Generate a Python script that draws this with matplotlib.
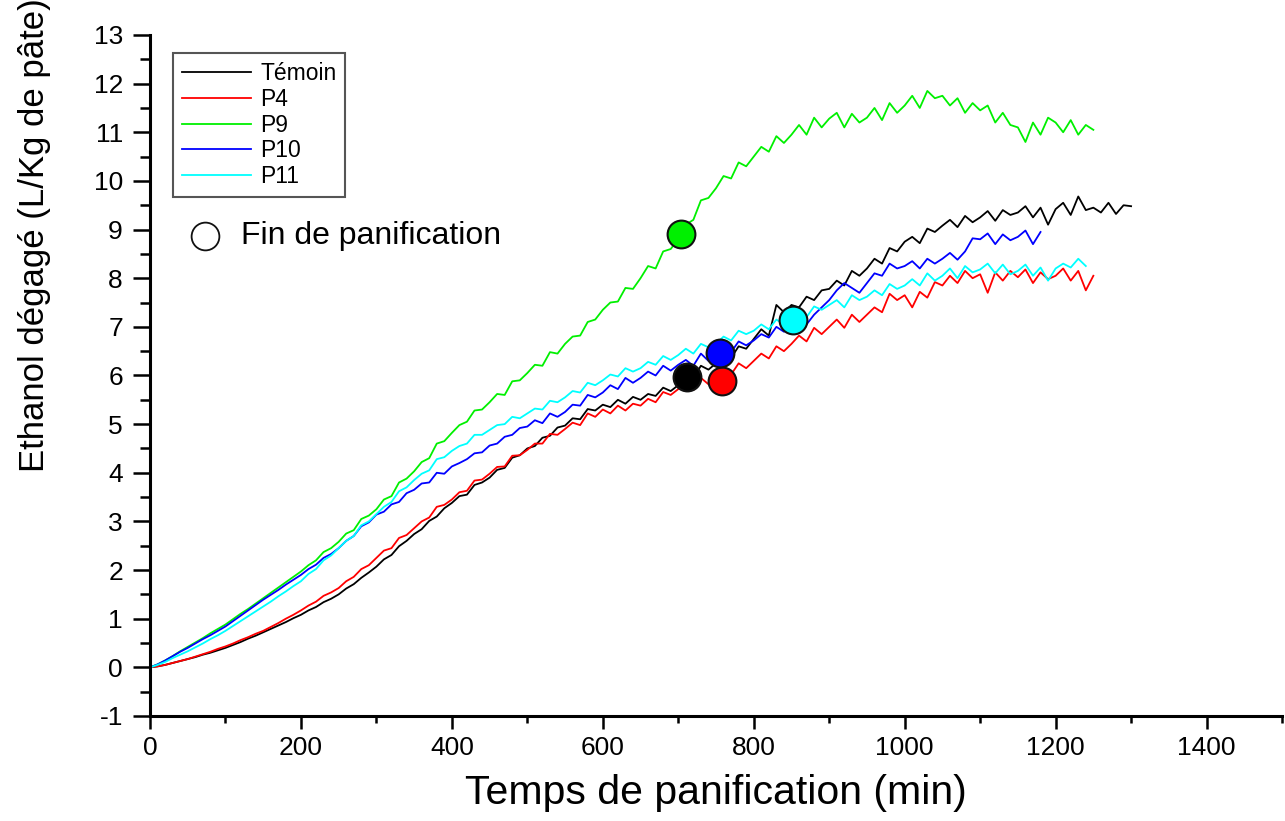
import numpy as np
import matplotlib
matplotlib.use("Agg")
import matplotlib.pyplot as plt
from matplotlib.ticker import MultipleLocator

plt.rcParams['font.family'] = ['Liberation Sans', 'DejaVu Sans']
plt.rcParams['axes.unicode_minus'] = False

# ---------------- data ----------------
step = 10  # minutes between samples

temoin = [0, 0.02, 0.05, 0.09, 0.13,
          0.17, 0.21, 0.26, 0.30, 0.35,
          0.40, 0.46, 0.52, 0.59, 0.65,
          0.72, 0.79, 0.86, 0.93, 1.01,
          1.08, 1.17, 1.24, 1.34, 1.41,
          1.50, 1.62, 1.71, 1.84, 1.95,
          2.07, 2.22, 2.31, 2.49, 2.60,
          2.74, 2.84, 3.01, 3.10, 3.27,
          3.38, 3.52, 3.55, 3.75, 3.80,
          3.90, 4.06, 4.10, 4.31, 4.36,
          4.50, 4.55, 4.72, 4.76, 4.93,
          4.97, 5.12, 5.10, 5.31, 5.28,
          5.40, 5.35, 5.50, 5.42, 5.56,
          5.50, 5.62, 5.58, 5.75, 5.68,
          5.80, 6.02, 5.95, 6.20, 6.12,
          6.25, 6.40, 6.36, 6.60, 6.55,
          6.75, 6.95, 6.82, 7.45, 7.30,
          7.45, 7.40, 7.62, 7.55, 7.75,
          7.78, 7.95, 7.85, 8.15, 8.05,
          8.20, 8.40, 8.30, 8.62, 8.55,
          8.75, 8.85, 8.72, 9.02, 8.95,
          9.08, 9.20, 9.05, 9.28, 9.15,
          9.25, 9.38, 9.18, 9.40, 9.30,
          9.35, 9.48, 9.25, 9.45, 9.10,
          9.42, 9.55, 9.30, 9.68, 9.40,
          9.45, 9.35, 9.55, 9.32, 9.50,
          9.48]

p4 = [0, 0.02, 0.05, 0.09, 0.13,
      0.17, 0.22, 0.27, 0.32, 0.38,
      0.43, 0.49, 0.56, 0.62, 0.69,
      0.75, 0.83, 0.91, 1.00, 1.08,
      1.17, 1.27, 1.35, 1.47, 1.54,
      1.63, 1.77, 1.86, 2.02, 2.10,
      2.25, 2.40, 2.45, 2.66, 2.72,
      2.86, 3.00, 3.08, 3.30, 3.34,
      3.45, 3.60, 3.63, 3.84, 3.86,
      3.98, 4.12, 4.13, 4.35, 4.36,
      4.47, 4.60, 4.60, 4.80, 4.78,
      4.90, 5.03, 4.98, 5.22, 5.15,
      5.30, 5.22, 5.38, 5.28, 5.42,
      5.38, 5.52, 5.45, 5.66, 5.60,
      5.72, 5.85, 5.70, 5.95, 5.82,
      5.93, 6.10, 6.02, 6.25, 6.15,
      6.30, 6.45, 6.35, 6.60, 6.50,
      6.65, 6.82, 6.70, 6.98, 6.85,
      7.00, 7.15, 6.98, 7.25, 7.10,
      7.25, 7.40, 7.30, 7.68, 7.55,
      7.65, 7.40, 7.72, 7.60, 7.92,
      7.85, 8.05, 7.90, 8.15, 8.00,
      8.08, 7.70, 8.12, 7.95, 8.15,
      8.02, 8.18, 7.90, 8.12, 7.98,
      8.05, 8.20, 7.95, 8.15, 7.75,
      8.05]

p9 = [0, 0.06, 0.14, 0.23, 0.33,
      0.42, 0.51, 0.60, 0.70, 0.79,
      0.88, 0.99, 1.10, 1.20, 1.31,
      1.42, 1.53, 1.64, 1.75, 1.86,
      1.97, 2.10, 2.20, 2.37, 2.45,
      2.58, 2.75, 2.82, 3.05, 3.12,
      3.25, 3.45, 3.52, 3.80, 3.88,
      4.03, 4.22, 4.30, 4.60, 4.65,
      4.82, 4.98, 5.05, 5.28, 5.30,
      5.45, 5.62, 5.60, 5.88, 5.90,
      6.05, 6.22, 6.20, 6.48, 6.45,
      6.65, 6.80, 6.82, 7.10, 7.15,
      7.35, 7.50, 7.52, 7.80, 7.78,
      8.00, 8.25, 8.20, 8.55, 8.60,
      8.80, 9.10, 9.20, 9.60, 9.65,
      9.85, 10.10, 10.05, 10.38, 10.30,
      10.50, 10.70, 10.60, 10.92, 10.78,
      10.95, 11.15, 10.95, 11.30, 11.10,
      11.28, 11.40, 11.10, 11.38, 11.20,
      11.30, 11.50, 11.25, 11.60, 11.40,
      11.55, 11.75, 11.50, 11.85, 11.70,
      11.75, 11.55, 11.70, 11.40, 11.60,
      11.45, 11.55, 11.20, 11.40, 11.15,
      11.10, 10.80, 11.20, 10.95, 11.30,
      11.20, 11.00, 11.25, 10.95, 11.15,
      11.05]

p10 = [0, 0.06, 0.14, 0.23, 0.32,
       0.40, 0.49, 0.58, 0.66, 0.75,
       0.84, 0.95, 1.06, 1.17, 1.28,
       1.39, 1.49, 1.59, 1.70, 1.80,
       1.90, 2.02, 2.11, 2.25, 2.33,
       2.45, 2.60, 2.70, 2.90, 2.98,
       3.14, 3.20, 3.35, 3.40, 3.58,
       3.65, 3.78, 3.80, 4.00, 3.98,
       4.13, 4.20, 4.28, 4.40, 4.42,
       4.56, 4.60, 4.74, 4.78, 4.92,
       4.95, 5.08, 5.02, 5.22, 5.15,
       5.25, 5.40, 5.38, 5.60, 5.55,
       5.65, 5.80, 5.72, 5.95, 5.85,
       5.95, 6.08, 6.00, 6.20, 6.10,
       6.22, 6.32, 6.20, 6.45, 6.30,
       6.40, 6.55, 6.48, 6.70, 6.62,
       6.72, 6.85, 6.78, 7.00, 6.90,
       7.00, 7.12, 7.05, 7.25, 7.40,
       7.55, 7.75, 7.90, 7.80, 7.70,
       7.90, 8.10, 8.05, 8.30, 8.20,
       8.25, 8.35, 8.20, 8.40, 8.30,
       8.40, 8.52, 8.38, 8.55, 8.82,
       8.80, 8.92, 8.70, 8.90, 8.78,
       8.85, 8.98, 8.70, 8.95]

p11 = [0, 0.05, 0.11, 0.19, 0.26,
       0.33, 0.41, 0.49, 0.58, 0.66,
       0.75, 0.85, 0.95, 1.05, 1.15,
       1.25, 1.35, 1.46, 1.56, 1.67,
       1.77, 1.92, 2.02, 2.20, 2.30,
       2.45, 2.60, 2.70, 2.92, 3.00,
       3.15, 3.30, 3.40, 3.62, 3.70,
       3.85, 3.98, 4.05, 4.28, 4.32,
       4.45, 4.55, 4.60, 4.78, 4.78,
       4.88, 4.98, 5.00, 5.15, 5.12,
       5.22, 5.32, 5.30, 5.48, 5.45,
       5.55, 5.68, 5.65, 5.85, 5.80,
       5.90, 6.02, 5.98, 6.15, 6.08,
       6.15, 6.28, 6.22, 6.40, 6.32,
       6.42, 6.55, 6.45, 6.65, 6.58,
       6.65, 6.80, 6.72, 6.92, 6.85,
       6.92, 7.05, 6.95, 7.15, 7.05,
       7.10, 7.25, 7.20, 7.42, 7.35,
       7.45, 7.55, 7.40, 7.65, 7.55,
       7.62, 7.75, 7.65, 7.88, 7.78,
       7.85, 7.98, 7.85, 8.10, 7.95,
       8.05, 8.20, 8.00, 8.25, 8.12,
       8.18, 8.30, 8.10, 8.28, 8.08,
       8.15, 8.28, 8.05, 8.22, 7.95,
       8.20, 8.30, 8.22, 8.40, 8.25]

series_names = ['Témoin', 'P4', 'P9', 'P10', 'P11']
series_values = [temoin, p4, p9, p10, p11]
series_colors = ['#000000', '#ff0000', '#00f000', '#0000ff', '#00ffff']

# end of bread-making points (Fin de panification)
end_time = [712, 758, 704, 755, 852]
end_value = [5.96, 5.88, 8.90, 6.46, 7.15]

x_ticks = [0, 200, 400, 600, 800, 1000, 1200, 1400]
y_ticks = list(range(-1, 14))

# ---------------- figure ----------------
fig = plt.figure(figsize=(12.85, 8.21), dpi=100)
ax = fig.add_axes([0.1167, 0.1279, 0.8810, 0.8295])

for name, vals, col in zip(series_names, series_values, series_colors):
    t = np.arange(len(vals)) * step
    ax.plot(t, vals, color=col, lw=1.3, label=name, zorder=2)

for tt, vv, col in zip(end_time, end_value, series_colors):
    ax.plot([tt], [vv], 'o', ms=20, mfc=col, mec='#111111', mew=1.5, zorder=5)

ax.set_xlim(0, 1500)
ax.set_ylim(-1, 13)
ax.set_xticks(x_ticks)
ax.set_yticks(y_ticks)
ax.xaxis.set_minor_locator(MultipleLocator(100))
ax.yaxis.set_minor_locator(MultipleLocator(0.5))

for s in ['top', 'right']:
    ax.spines[s].set_visible(False)
for s in ['left', 'bottom']:
    ax.spines[s].set_linewidth(2.2)

ax.tick_params(axis='x', which='major', direction='out', length=9.5, width=1.8,
               labelsize=19, pad=5)
ax.tick_params(axis='x', which='minor', direction='out', length=5, width=1.8)
ax.tick_params(axis='y', which='major', direction='out', length=12.5, width=1.8,
               labelsize=19, pad=7)
ax.tick_params(axis='y', which='minor', direction='out', length=7, width=1.8)

ax.set_xlabel('Temps de panification (min)', fontsize=29.5)
ax.set_ylabel('Ethanol dégagé (L/Kg de pâte)', fontsize=25)
ax.xaxis.set_label_coords(0.5, -0.085)
ax.yaxis.set_label_coords(-0.087, 0.706)

leg = ax.legend(loc='upper left', bbox_to_anchor=(0.0203, 0.9736),
                borderaxespad=0, fontsize=16.5, handlelength=3.0,
                handletextpad=0.4, labelspacing=0.12, borderpad=0.4,
                fancybox=False, framealpha=1, edgecolor='#555555')
leg.get_frame().set_linewidth(1.5)

ax.plot([0.0486], [0.7048], 'o', ms=20, mfc='white', mec='#111111', mew=1.3,
        transform=ax.transAxes, clip_on=False, zorder=6)
ax.text(0.0804, 0.7048, 'Fin de panification', transform=ax.transAxes,
        fontsize=23, va='center', ha='left')

fig.savefig('out.png', dpi=100)
